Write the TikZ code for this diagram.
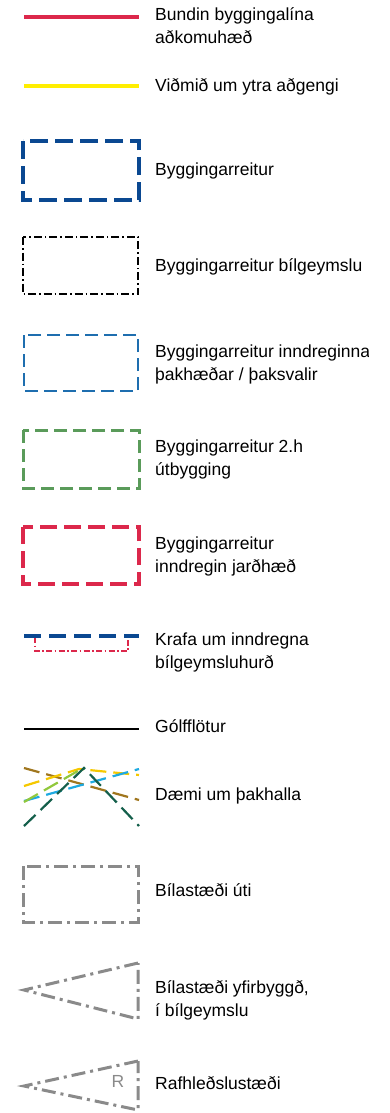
\documentclass[tikz,border=0pt]{standalone}
\usepackage{fontspec}
\setmainfont{Liberation Sans}
\usetikzlibrary{positioning}
\definecolor{bundred}{RGB}{220,40,75}
\definecolor{vidyellow}{RGB}{255,238,0}
\definecolor{byggblue}{RGB}{10,72,145}
\definecolor{thakblue}{RGB}{30,110,175}
\definecolor{utgreen}{RGB}{90,155,90}
\definecolor{roofbrown}{RGB}{160,118,30}
\definecolor{roofyellow}{RGB}{245,200,0}
\definecolor{roofcyan}{RGB}{30,170,225}
\definecolor{rooflgreen}{RGB}{145,200,60}
\definecolor{roofdgreen}{RGB}{20,95,75}
\definecolor{parkgray}{RGB}{138,138,138}
\tikzset{
  lbl/.style={anchor=base west, align=left, inner sep=0pt, font=\fontsize{17.5}{23}\selectfont},
  roof/.style={line width=2.2pt, dash pattern=on 16pt off 7pt},
  park/.style={parkgray, line width=3pt, dash pattern=on 14pt off 5pt on 3pt off 5pt}
}
\begin{document}
\begin{tikzpicture}[x=1pt, y=-1pt]
  \useasboundingbox (0,0) rectangle (390,1113);
  \clip (0,0) rectangle (368,1113);

  % Define label nodes (two-line labels sit on their last baseline)
  \node[lbl] (bund) at (155,44) {Bundin byggingalína\\aðkomuhæð};
  \node[lbl] (vidm) at (155,92) {Viðmið um ytra aðgengi};
  \node[lbl] (bygg) at (155,175) {Byggingarreitur};
  \node[lbl] (bilg) at (155,271) {Byggingarreitur bílgeymslu};
  \node[lbl] (thak) at (155,380) {Byggingarreitur inndreginna\\þakhæðar / þaksvalir};
  \node[lbl] (utb) at (155,475) {Byggingarreitur 2.h\\útbygging};
  \node[lbl] (jard) at (155,572) {Byggingarreitur\\inndregin jarðhæð};
  \node[lbl] (krafa) at (155,668) {Krafa um inndregna\\bílgeymsluhurð};
  \node[lbl] (golf) at (155,732) {Gólfflötur};
  \node[lbl] (halla) at (155,800) {Dæmi um þakhalla};
  \node[lbl] (uti) at (155,896) {Bílastæði úti};
  \node[lbl] (yfir) at (155,1016) {Bílastæði yfirbyggð,\\í bílgeymslu};
  \node[lbl] (rafh) at (155,1089) {Rafhleðslustæði};

  % Draw symbols
  \draw[bundred, line width=4pt] (24,17) -- (139,17);
  \draw[vidyellow, line width=4pt] (24,86) -- (139,86);
  \draw[byggblue, line width=4pt, dash pattern=on 18pt off 7pt] (23,141) rectangle (139,200);
  \draw[black, line width=1.3pt, dash pattern=on 8pt off 3pt on 1.5pt off 3pt] (23,237) rectangle (138,294);
  \draw[thakblue, line width=1.5pt, dash pattern=on 13pt off 6pt] (24,335) rectangle (138,391);
  \draw[utgreen, line width=3pt, dash pattern=on 13pt off 6pt] (23,430) rectangle (139,488);
  \draw[bundred, line width=3.5pt, dash pattern=on 17pt off 7pt] (23,527) rectangle (139,584);
  \draw[bundred, line width=2.5pt, dash pattern=on 6pt off 2.5pt on 1.5pt off 2.5pt] (35,637) -- (35,651) -- (128,651) -- (128,637);
  \draw[byggblue, line width=4pt, dash pattern=on 17pt off 8pt] (24,636) -- (139,636);
  \draw[black, line width=1.3pt] (24,729) -- (139,729);

  % Roof slopes
  \draw[roof, roofbrown] (24,768) -- (139,800);
  \draw[roof, roofyellow] (24,786) -- (79,769) -- (139,775);
  \draw[roof, roofcyan] (24,801) -- (139,769);
  \draw[roof, rooflgreen] (24,802) -- (83,768);
  \draw[roof, roofdgreen] (24,826) -- (84,768) -- (139,826);

  % Parking
  \draw[park] (23,866) rectangle (138,922);
  \draw[park] (138,963) -- (24,990) -- (138,1019) -- cycle;
  \draw[park] (138,1061) -- (24,1086) -- (138,1110) -- cycle;
  \node[parkgray, inner sep=0pt, font=\fontsize{17.5}{23}\selectfont] (R) at (118,1081) {R};
\end{tikzpicture}
\end{document}
